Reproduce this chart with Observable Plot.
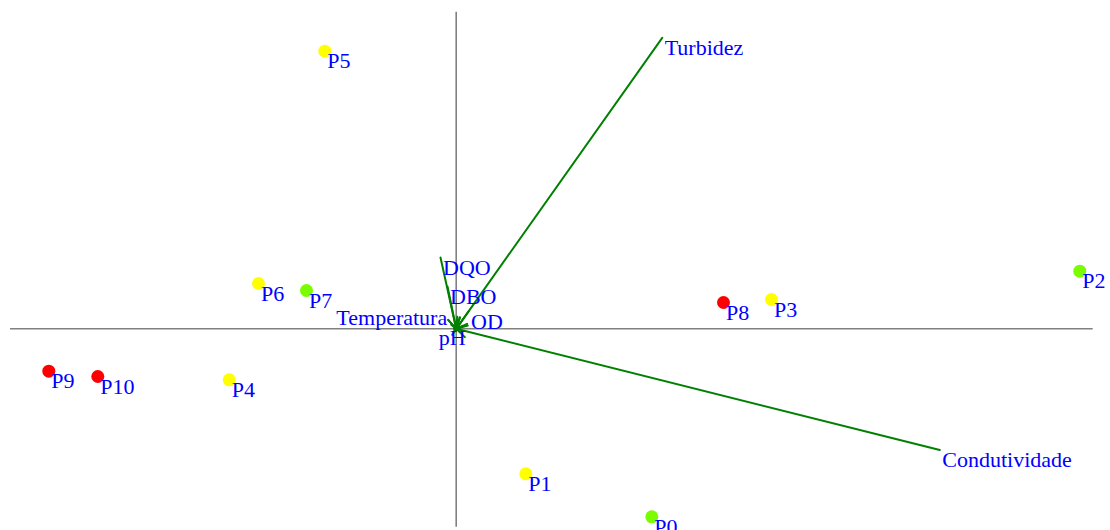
<!DOCTYPE html>
<html>
<head>
<meta charset="utf-8">
<script src="https://cdn.jsdelivr.net/npm/d3@7"></script>
<script src="https://cdn.jsdelivr.net/npm/@observablehq/plot@0.6"></script>
<style>
  html, body { margin: 0; padding: 0; background: #fff; }
  #chart svg { display: block; }
</style>
</head>
<body>
<div id="chart"></div>
<script>
// Sampling points: scores on the first two principal components
const pointNames = ["P0", "P1", "P2", "P3", "P4", "P5", "P6", "P7", "P8", "P9", "P10"];
const pc1Scores  = [1.956, 0.696, 6.236, 3.153, -2.270, -1.314, -1.977, -1.497, 2.673, -4.074, -3.584];
const pc2Scores  = [-1.880, -1.450, 0.576, 0.293, -0.510, 2.776, 0.453, 0.383, 0.263, -0.424, -0.477];
const pointGroup = ["B", "A", "B", "A", "A", "A", "A", "B", "C", "C", "C"];

// Water-quality variables: loadings on the same two components
const variableNames = ["Turbidez", "Condutividade", "DQO", "DBO", "OD", "Temperatura", "pH"];
const pc1Loadings   = [2.060, 4.836, -0.157, -0.087, 0.123, -0.050, -0.040];
const pc2Loadings   = [2.910, -1.212, 0.713, 0.423, 0.173, 0.040, -0.060];

// Extent of the two reference axes
const axisXExtent = [-4.457, 6.370];
const axisYExtent = [-1.984, 3.166];

const points = pointNames.map((name, i) => ({
  name, x: pc1Scores[i], y: pc2Scores[i], group: pointGroup[i]
}));

const vectors = variableNames.map((name, i) => ({
  name, x: pc1Loadings[i], y: pc2Loadings[i]
}));

// Label placement follows the vector direction: leftward vectors get their
// label on the left, downward vectors get it centred underneath.
const side = d =>
  d.x < 0 && Math.abs(d.x) > Math.abs(d.y) ? "left"
  : d.y < 0 && Math.abs(d.y) > Math.abs(d.x) ? "below"
  : "right";

const font = "'Liberation Serif', 'Times New Roman', serif";
const textStyle = { fill: "#0000ff", fontSize: 22, fontFamily: font, lineAnchor: "bottom" };

const chart = Plot.plot({
  width: 1110,
  height: 530,
  margin: 0,
  style: { background: "#fff", fontFamily: font },
  x: { domain: [-4.557, 6.543], axis: null },
  y: { domain: [-2.017, 3.283], axis: null },
  color: { domain: ["A", "B", "C"], range: ["#ffff00", "#7cfc00", "#ff0000"] },
  marks: [
    Plot.ruleY([0], { x1: axisXExtent[0], x2: axisXExtent[1], stroke: "#808080", strokeWidth: 1.6 }),
    Plot.ruleX([0], { y1: axisYExtent[0], y2: axisYExtent[1], stroke: "#808080", strokeWidth: 1.6 }),
    Plot.arrow(vectors, {
      x1: "x", y1: "y", x2: () => 0, y2: () => 0,
      stroke: "#008000", strokeWidth: 2, headLength: 9, bend: 0
    }),
    Plot.dot(points, { x: "x", y: "y", r: 6.5, fill: "group", stroke: "none" }),
    Plot.text(points, { x: "x", y: "y", text: "name", textAnchor: "start", dx: 2.5, dy: 17, ...textStyle }),
    Plot.text(vectors.filter(d => side(d) === "right"), {
      x: "x", y: "y", text: "name", textAnchor: "start", dx: 2.5, dy: 17, ...textStyle
    }),
    Plot.text(vectors.filter(d => side(d) === "left"), {
      x: "x", y: "y", text: "name", textAnchor: "end", dx: -4, dy: 0, ...textStyle
    }),
    Plot.text(vectors.filter(d => side(d) === "below"), {
      x: "x", y: "y", text: "name", textAnchor: "middle", dx: 0, dy: 10, ...textStyle
    })
  ]
});

document.getElementById("chart").appendChild(chart);
</script>
</body>
</html>
